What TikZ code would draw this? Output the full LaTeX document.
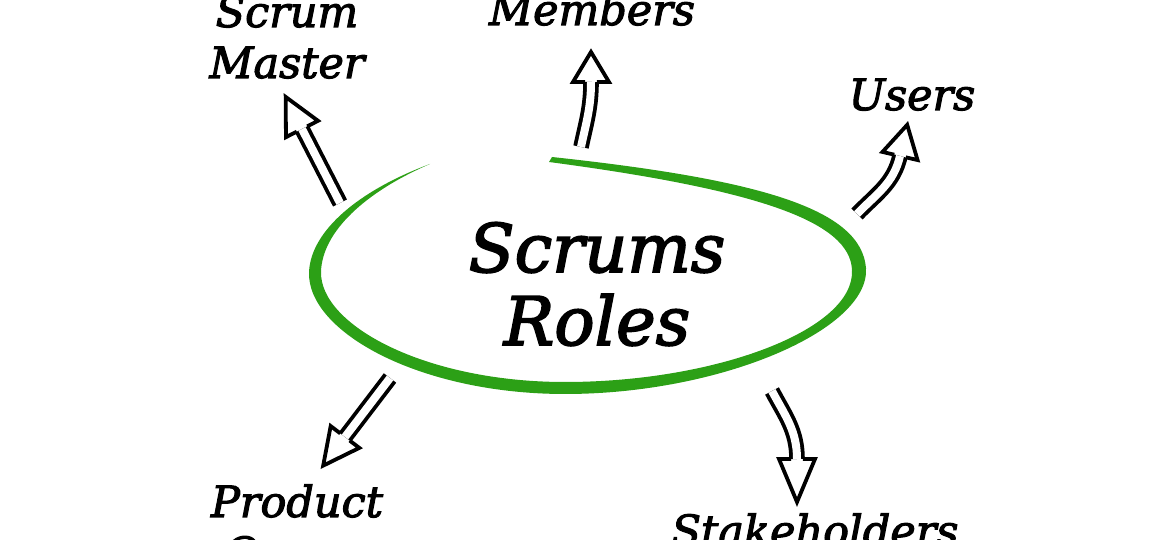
\documentclass[tikz,border=0pt]{standalone}
\usepackage{fontspec}
\newfontfamily\handfont{DejaVu Serif Italic}[FakeBold=2.5]
\definecolor{penGreen}{RGB}{44,160,22}
\tikzset{
  lbl/.style={font=\fontsize{43}{51}\selectfont\handfont, align=center, inner sep=0pt},
  big/.style={font=\fontsize{67}{73}\selectfont\handfont, align=center, inner sep=0pt},
  shaft/.style={line width=3.8pt, double=white, double distance=8pt},
  pics/head/.style={code={
    \draw[line width=3.8pt, line join=miter] (0,5.9) -- (0,18) -- (#1,0) -- (0,-18) -- (0,-5.9);}}
}
\begin{document}
\begin{tikzpicture}[x=1pt,y=1pt]
\useasboundingbox (0,0) rectangle (1170,540);
\clip (0,0) rectangle (1170,540);
%----------------------------------
\node[big, anchor=base] (roles) at (597,195) {Scrums\\Roles};
\fill[penGreen] (430,376) .. controls (360,350) and (311,310) .. (309,268)
  .. controls (307,208) and (420,146) .. (565,146)
  .. controls (720,146) and (870,210) .. (866,272)
  .. controls (861,330) and (765,360) .. (552,383)
  -- (549,378) .. controls (760,350) and (850,318) .. (852,270)
  .. controls (855,210) and (715,158) .. (565,158)
  .. controls (425,158) and (320,215) .. (321,268)
  .. controls (322,308) and (365,348) .. (430,376) -- cycle;
%----------------------------------
\node[lbl, anchor=base] (master) at (287,462) {Scrum\\Master};
\node[lbl, anchor=base] (members) at (592,515) {Members};
\node[lbl, anchor=base] (users) at (912,430) {Users};
\node[lbl, anchor=base] (owner) at (297,-28) {Product\\Owner};
\node[lbl, anchor=base] (holders) at (815,-6) {Stakeholders};
%----------------------------------
\coordinate (smT) at (340,337); \coordinate (smN) at (302,411);
\coordinate (tmT) at (581,393); \coordinate (tmN) at (591,458);
\coordinate (usT) at (857,326); \coordinate (usN) at (900,384);
\coordinate (poT) at (390,162); \coordinate (poN) at (345,103);
\coordinate (shT) at (772,149); \coordinate (shN) at (797,81);
\draw[shaft] (smT) -- (smN);
\pic[rotate=117] at (smN) {head=36};
\draw[shaft] (tmT) to[out=78, in=270] (tmN);
\pic[rotate=90] at (tmN) {head=30};
\draw[shaft] (usT) to[out=46, in=257] (usN);
\pic[rotate=77] at (usN) {head=32};
\draw[shaft] (poT) -- (poN);
\pic[rotate=232.7] at (poN) {head=36};
\draw[shaft] (shT) to[out=-62, in=90] (shN);
\pic[rotate=-90] at (shN) {head=43};
\end{tikzpicture}
\end{document}
